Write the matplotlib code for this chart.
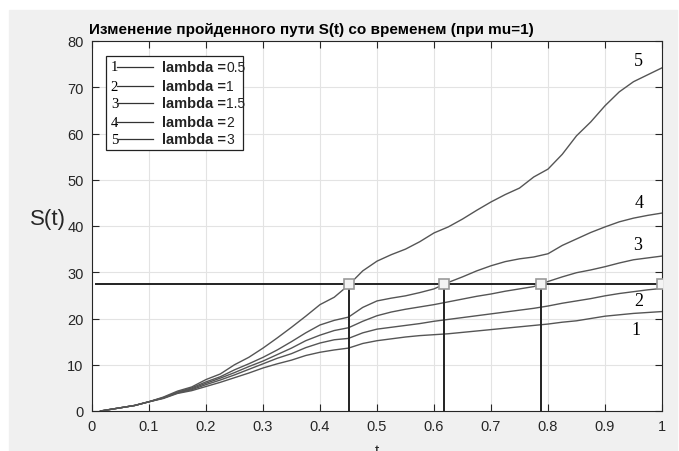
import matplotlib.pyplot as plt
from matplotlib.patches import Rectangle
from matplotlib.lines import Line2D

plt.rcParams['font.family'] = ['Liberation Sans', 'DejaVu Sans']

# time grid and S(t) for each lambda
t = [0.015, 0.05, 0.075, 0.1, 0.125, 0.15, 0.175, 0.2, 0.225, 0.25,
     0.275, 0.3, 0.325, 0.35, 0.375, 0.4, 0.425, 0.45, 0.475, 0.5,
     0.525, 0.55, 0.575, 0.6, 0.625, 0.65, 0.675, 0.7, 0.725, 0.75,
     0.775, 0.8, 0.825, 0.85, 0.875, 0.9, 0.925, 0.95, 0.975, 1.0]

s1 = [0, 0.7, 1.2, 2.0, 2.7, 3.8, 4.4, 5.3, 6.2, 7.2,
      8.2, 9.3, 10.2, 11.0, 12.0, 12.7, 13.2, 13.6, 14.6, 15.2,
      15.6, 16.0, 16.3, 16.5, 16.7, 17.0, 17.3, 17.6, 17.9, 18.2,
      18.5, 18.8, 19.2, 19.5, 20.0, 20.5, 20.8, 21.1, 21.3, 21.5]
s2 = [0, 0.7, 1.2, 2.0, 2.8, 3.9, 4.6, 5.7, 6.7, 7.8,
      9.0, 10.2, 11.4, 12.4, 13.7, 14.7, 15.4, 15.7, 16.9, 17.7,
      18.1, 18.5, 18.9, 19.4, 19.8, 20.2, 20.6, 21.0, 21.4, 21.8,
      22.2, 22.7, 23.3, 23.8, 24.3, 24.9, 25.4, 25.8, 26.2, 26.5]
s3 = [0, 0.7, 1.2, 2.0, 2.8, 4.0, 4.8, 6.0, 7.1, 8.3,
      9.6, 10.8, 12.2, 13.6, 15.2, 16.4, 17.4, 18.0, 19.4, 20.6,
      21.4, 22.0, 22.5, 23.0, 23.6, 24.2, 24.8, 25.3, 25.9, 26.4,
      26.9, 28.0, 29.0, 29.9, 30.5, 31.2, 32.0, 32.7, 33.1, 33.5]
s4 = [0, 0.7, 1.2, 2.0, 2.9, 4.1, 5.0, 6.3, 7.4, 8.9,
      10.2, 11.6, 13.2, 15.0, 16.9, 18.6, 19.6, 20.3, 22.4, 23.8,
      24.4, 24.9, 25.6, 26.4, 27.8, 29.0, 30.3, 31.4, 32.3, 32.9,
      33.3, 34.0, 35.8, 37.2, 38.6, 39.8, 40.9, 41.7, 42.3, 42.8]
s5 = [0, 0.7, 1.2, 2.0, 3.0, 4.3, 5.2, 6.8, 8.0, 10.0,
      11.6, 13.6, 15.8, 18.1, 20.5, 23.0, 24.6, 27.2, 30.3, 32.4,
      33.8, 35.0, 36.6, 38.5, 39.8, 41.5, 43.4, 45.2, 46.8, 48.2,
      50.6, 52.3, 55.5, 59.5, 62.5, 66.0, 69.0, 71.2, 72.7, 74.2]

series = [s1, s2, s3, s4, s5]
lambdas = ['0.5', '1', '1.5', '2', '3']
curve_labels = ['1', '2', '3', '4', '5']
label_pos = [(0.955, 17.7), (0.96, 23.8), (0.958, 36.1), (0.96, 45.0), (0.958, 75.7)]

s_level = 27.4
t_cross = [0.451, 0.6175, 0.787]

fig = plt.figure(figsize=(6.79, 4.52), dpi=100, facecolor='white')
fig.patches.append(Rectangle((9 / 679, 0), 668 / 679, 441 / 452,
                             transform=fig.transFigure, color='#f0f0f0', zorder=-10))
ax = fig.add_axes([92 / 679, 40 / 452, 570 / 679, 370 / 452])
ax.set_facecolor('white')

for s in series:
    ax.plot(t, s, color='#555555', lw=1.0)

# threshold line and crossings
ax.plot([0.007, 1.0], [s_level, s_level], color='#222222', lw=1.4)
for tc in t_cross:
    ax.plot([tc, tc], [0, s_level], color='#222222', lw=1.4)
ax.plot(t_cross + [1.0], [s_level] * 4, ls='none', marker='s', ms=7,
        mfc='#f4f4f4', mec='#9a9a9a', mew=1.2, zorder=5)

for lab, (x, y) in zip(curve_labels, label_pos):
    ax.text(x, y, lab, family='Liberation Serif', fontsize=13, ha='center', va='center')

ax.set_xlim(0, 1)
ax.set_ylim(0, 80)
ax.set_xticks([0, 0.1, 0.2, 0.3, 0.4, 0.5, 0.6, 0.7, 0.8, 0.9, 1])
ax.set_xticklabels(['0', '0.1', '0.2', '0.3', '0.4', '0.5', '0.6', '0.7', '0.8', '0.9', '1'])
ax.set_yticks(range(0, 81, 10))
ax.grid(True, color='#e3e3e3', lw=0.8)
ax.tick_params(direction='in', length=5, width=0.8, top=True, right=True,
               labelsize=10.5, colors='#262626', pad=6)
for sp in ax.spines.values():
    sp.set_color('#262626')
    sp.set_linewidth(0.8)

ax.set_ylabel('S(t)', rotation=0, fontsize=16, color='#262626', ha='center', va='center')
ax.yaxis.set_label_coords(-0.077, 0.519)
ax.set_xlabel('t', fontsize=11, color='#262626', va='top')
ax.xaxis.set_label_coords(0.5, -0.086)

fig.text(89 / 679, 1 - 30 / 452, 'Изменение пройденного пути S(t) со временем (при mu=1)',
         fontsize=11, fontweight='bold', ha='left', va='center')

# hand drawn legend box
ax.add_patch(Rectangle((0.0246, 0.705), 0.2404, 0.254, transform=ax.transAxes,
                       facecolor='white', edgecolor='#222222', lw=0.9, zorder=6))
rows = [0.930, 0.878, 0.832, 0.781, 0.735]
for lab, lam, y in zip(curve_labels, lambdas, rows):
    ax.text(0.033, y, lab, transform=ax.transAxes, family='Liberation Serif',
            fontsize=10.5, ha='left', va='center', zorder=7)
    ax.add_line(Line2D([0.043, 0.107], [y, y], transform=ax.transAxes,
                       color='#333333', lw=0.9, zorder=7))
    name = ax.text(0.123, y, 'lambda =', transform=ax.transAxes, fontsize=10.5,
                   fontweight='bold', ha='left', va='center', color='#222222', zorder=7)
    ax.annotate(lam, xy=(1, 0.5), xycoords=name, xytext=(0, 0),
                textcoords='offset points', fontsize=10, ha='left', va='center',
                color='#222222', zorder=7)

fig.savefig('out.png', dpi=100)
